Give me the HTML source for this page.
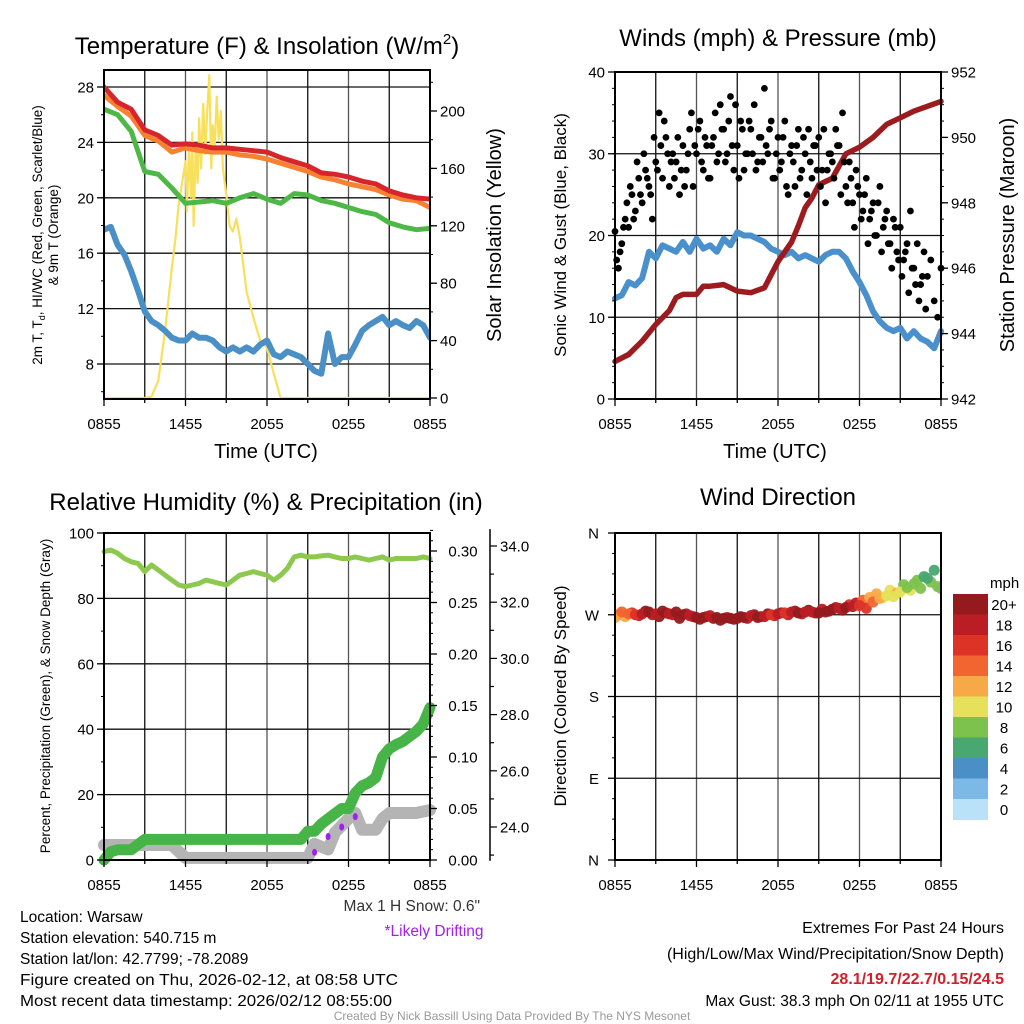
<!DOCTYPE html>
<html><head><meta charset="utf-8"><style>
html,body{margin:0;padding:0;background:#fff}
svg{display:block;font-family:"Liberation Sans",Arial,sans-serif}
</style></head><body>
<svg id="chart" width="1024" height="1024" viewBox="0 0 1024 1024" xmlns="http://www.w3.org/2000/svg">
<rect width="1024" height="1024" fill="#fff"/>
<g id="layer-grid"></g>
<g id="layer-data"></g>
<g id="layer-axes"></g>
<g id="layer-text">
<text x="267" y="54" font-size="24" text-anchor="middle">Temperature (F) &amp; Insolation (W/m<tspan font-size="15" dy="-10">2</tspan><tspan dy="10">)</tspan></text>
<text x="778" y="46" font-size="24" text-anchor="middle">Winds (mph) &amp; Pressure (mb)</text>
<text x="266" y="510" font-size="24" text-anchor="middle">Relative Humidity (%) &amp; Precipitation (in)</text>
<text x="778" y="505" font-size="24" text-anchor="middle">Wind Direction</text>
<text x="266" y="458" font-size="20" text-anchor="middle">Time (UTC)</text>
<text x="775" y="458" font-size="20" text-anchor="middle">Time (UTC)</text>
<text transform="translate(42,235) rotate(-90)" font-size="13.5" text-anchor="middle">2m T, T<tspan font-size="9" dy="3">d</tspan><tspan dy="-3">, HI/WC (Red, Green, Scarlet/Blue)</tspan></text>
<text transform="translate(58,235) rotate(-90)" font-size="13.5" text-anchor="middle">&amp; 9m T (Orange)</text>
<text transform="translate(501,235) rotate(-90)" font-size="20" text-anchor="middle">Solar Insolation (Yellow)</text>
<text transform="translate(566,235) rotate(-90)" font-size="17" text-anchor="middle">Sonic Wind &amp; Gust (Blue, Black)</text>
<text transform="translate(1014,235) rotate(-90)" font-size="20" text-anchor="middle">Station Pressure (Maroon)</text>
<text transform="translate(50,696) rotate(-90)" font-size="13.5" text-anchor="middle">Percent, Precipitation (Green), &amp; Snow Depth (Gray)</text>
<text transform="translate(566,696) rotate(-90)" font-size="17" text-anchor="middle">Direction (Colored By Speed)</text>
<text x="990" y="588" font-size="15">mph</text>
<text x="480" y="911" font-size="15.5" text-anchor="end" fill="#333">Max 1 H Snow: 0.6"</text>
<text x="434" y="936" font-size="15.5" text-anchor="middle" fill="#a020f0">*Likely Drifting</text>
<g font-size="15.5">
<text x="20" y="922">Location: Warsaw</text>
<text x="20" y="943">Station elevation: 540.715 m</text>
<text x="20" y="964">Station lat/lon: 42.7799; -78.2089</text>
<text x="20" y="985" textLength="378" lengthAdjust="spacingAndGlyphs">Figure created on Thu, 2026-02-12, at 08:58 UTC</text>
<text x="20" y="1006" textLength="372" lengthAdjust="spacingAndGlyphs">Most recent data timestamp: 2026/02/12 08:55:00</text>
</g>
<text x="1004" y="933" font-size="16" text-anchor="end">Extremes For Past 24 Hours</text>
<text x="1004" y="959" font-size="16" text-anchor="end">(High/Low/Max Wind/Precipitation/Snow Depth)</text>
<text x="1004" y="984" font-size="16" font-weight="bold" text-anchor="end" fill="#d0202a">28.1/19.7/22.7/0.15/24.5</text>
<text x="1004" y="1006" font-size="15.5" text-anchor="end">Max Gust: 38.3 mph On 02/11 at 1955 UTC</text>
<text x="512" y="1020" font-size="12" text-anchor="middle" fill="#999">Created By Nick Bassill Using Data Provided By The NYS Mesonet</text>
</g>
</svg>
<script>
// ---- data (half-hourly unless noted, hours since 0855 UTC) ----
const timeLabels = ["0855","1455","2055","0255","0855"];
const tempTicks = [8,12,16,20,24,28];
const solarTicks = [0,40,80,120,160,200];
const windTicks = [0,10,20,30,40];
const presTicks = [942,944,946,948,950,952];
const rhTicks = [0,20,40,60,80,100];
const precipTicks = ["0.00","0.05","0.10","0.15","0.20","0.25","0.30"];
const snowTicks = ["24.0","26.0","28.0","30.0","32.0","34.0"];
const dirTicks = ["N","E","S","W","N"];
const speedBins = ["0","2","4","6","8","10","12","14","16","18","20+"];

const hourlyT = [28.0,26.9,26.4,24.9,24.5,23.8,23.9,23.8,23.6,23.6,23.5,23.4,23.3,22.9,22.6,22.3,21.8,21.7,21.5,21.2,21.0,20.5,20.2,20.0,19.9];
const hourly9mT = [27.4,26.6,25.9,24.5,24.1,23.3,23.6,23.4,23.3,23.3,23.1,23.0,22.8,22.5,22.2,21.9,21.5,21.3,21.0,20.8,20.6,20.2,19.9,19.8,19.3];
const hourlyTd = [26.4,26.0,24.8,21.9,21.7,20.7,19.6,19.7,19.8,19.6,20.0,20.3,19.9,19.6,20.3,20.2,19.8,19.6,19.3,19.0,18.8,18.2,17.9,17.7,17.8];
const windChill = [17.7,17.9,16.6,15.9,14.7,13.3,11.8,11.1,10.8,10.4,9.9,9.7,9.7,10.2,9.9,9.9,9.7,9.2,8.9,9.2,8.9,9.2,8.9,9.4,9.7,8.7,8.5,8.9,8.7,8.5,8.0,7.5,7.3,10.2,8.0,8.5,8.5,9.4,10.4,10.8,11.1,11.4,10.8,11.1,10.8,10.6,11.1,10.8,9.9];
const solarTimes = [0,3,3.5,4,4.5,5,5.25,5.5,5.75,6,6.1,6.25,6.4,6.5,6.6,6.75,6.9,7,7.15,7.3,7.45,7.6,7.75,7.9,8,8.15,8.3,8.45,8.6,8.75,9,9.25,9.5,9.75,10,10.5,11,11.5,12,12.5,13,24];
const solarVals = [0,0,1,12,47,91,110,135,150,165,130,175,140,185,120,175,150,195,160,205,170,200,225,160,190,175,210,180,200,160,142,120,116,125,112,74,56,40,35,17,0,0];

const sonicWind = [12.3,12.7,14.3,13.9,14.8,18.0,17.2,18.8,18.4,18.0,19.2,18.0,19.6,18.4,18.8,18.0,19.6,18.8,20.4,20.0,20.0,19.6,19.2,18.4,18.0,17.6,18.0,17.2,17.6,17.2,16.8,17.6,18.0,18.0,17.2,15.6,14.3,12.7,10.7,9.5,8.7,8.3,8.7,7.4,8.3,7.4,7.0,6.2,8.3];
const gust = [20.5,16,19,22, 21,25,23,27, 24,28,26,22, 29,35,27,32, 26,30,29,25, 31,28,33,26, 30,34,28,31, 27,32,29,36, 33,30,37,28, 31,34,28,30, 33,36,29,32, 38,30,34,27, 32,29,34,25, 31,26,33,28, 30,33,27,31, 32,28,24,30, 29,33,31,35, 26,29,24,28, 25,23,27,22, 24,20,26,21, 23,19,22,18, 21,17,19,23, 16,19,14,18, 15,17,12,10, 16];
const gustB = [17,18,21,24, 26,22,29,25, 30,27,25,32, 28,31,34,30, 29,27,32,28, 26,30,35,31, 33,29,32,27, 31,35,30,33, 29,34,31,36, 27,33,30,34, 30,28,32,29, 31,33,27,30, 28,32,26,30, 29,31,27,32, 25,29,31,28, 26,33,28,30, 27,31,25,29, 24,27,21,26, 22,25,19,23, 20,24,18,22, 19,16,21,17, 15,18,13,16, 14,12,15,11];
const presTimes = [0,1,2,3,4,4.5,5,6,6.5,7,8,9,10,11,11.5,12,12.5,13,13.5,14,14.5,15,15.5,16,17,18,19,20,21,22,23,24];
const pressure = [943.15,943.36,943.77,944.28,944.7,945.1,945.2,945.2,945.45,945.45,945.5,945.3,945.25,945.4,945.8,946.2,946.5,946.8,947.3,947.85,948.15,948.55,948.65,948.75,949.5,949.7,950.0,950.4,950.6,950.8,950.95,951.1];

const relHum = [94.3,94.8,93.8,92.2,91.2,90.7,88.2,90.2,88.7,87.1,85.6,84.1,83.6,84.1,84.6,85.6,85.1,84.6,84.1,85.6,87.1,87.6,88.2,87.6,87.1,85.6,87.1,89.2,92.7,93.2,92.7,92.7,93.0,93.2,92.7,92.2,92.2,92.7,92.2,91.7,92.2,92.7,91.7,92.2,92.2,92.2,92.2,92.7,92.2];
const precip = [0,0.008,0.01,0.01,0.01,0.015,0.02,0.02,0.02,0.02,0.02,0.02,0.02,0.02,0.02,0.02,0.02,0.02,0.02,0.02,0.02,0.02,0.02,0.02,0.02,0.02,0.02,0.02,0.02,0.02,0.028,0.028,0.035,0.04,0.045,0.05,0.05,0.065,0.072,0.075,0.08,0.1,0.108,0.112,0.115,0.12,0.125,0.132,0.148];
const snowTimes = [0,5,6,15,15.5,16.5,17,18,18.5,19,20,20.5,21,22,23,23.5,24];
const snowDepth = [23.36,23.36,22.9,22.9,23.4,23.2,23.8,24.3,24.5,23.9,23.9,24.3,24.5,24.5,24.5,24.55,24.6];
const driftTimes = [15.5,16.5,17.5,18.5];
const driftDepth = [23.1,23.66,24.0,24.37];

const windDir = [267,273,271,270,271,273,271,274,271,273,270,269,267,267,269,267,266,266,266,267,269,267,268,270,271,272,273,272,273,273,272,273,276,277,278,279,280,277,284,288,291,290,295,300,304,299,310,319,299];
const windSpd = [12,14,14,16,18,20,18,20,18,20,20,18,20,20,18,20,20,20,20,20,18,20,18,16,18,16,18,20,18,18,20,20,20,18,20,18,16,16,14,12,10,10,10,8,8,8,6,6,8];
const windDirB = [270,268,272,269,274,270,268,272,270,266,271,268,265,268,266,264,267,265,268,266,270,268,271,269,272,270,274,271,275,272,276,274,278,275,281,283,286,289,293,289,297,294,303,297,308,312,306,301];
const windSpdB = [14,12,16,18,20,18,20,20,18,20,18,20,20,18,20,20,18,20,20,18,20,18,20,18,20,18,20,18,20,20,18,20,18,20,16,18,14,12,12,10,10,12,8,10,8,6,8,8];

// ---- rendering ----
const NS = "http://www.w3.org/2000/svg";
const gGrid = document.getElementById('layer-grid');
const gData = document.getElementById('layer-data');
const gAxes = document.getElementById('layer-axes');
function mk(tag, attrs, parent){ const e=document.createElementNS(NS,tag); for(const k in attrs) e.setAttribute(k,attrs[k]); parent.appendChild(e); return e; }
function txt(s, x, y, size, anchor, parent, fill){ const e=mk('text',{x:x,y:y,'font-size':size,'text-anchor':anchor,fill:fill||'#000'},parent); e.textContent=s; return e; }
function lin(min,max,p0,p1){ return v => p0 + (v-min)/(max-min)*(p1-p0); }
const speedColors = ["#b9e2f8","#7cb9e6","#4a8fc5","#48a870","#7dc24d","#e6e05a","#f8a947","#f26430","#dd3327","#bb1d25","#951a1d"];

function panelFrame(name, L, T, R, B, hLines){
  const g = mk('g',{},gGrid);
  
  
  const xs = lin(0,24,L,R);
  for(let h=3; h<24; h+=3){ mk('line',{x1:xs(h),x2:xs(h),y1:T,y2:B,stroke:(h%6===0?'#555':'#111'),'stroke-width':1.3},g); }
  hLines.forEach(y=> mk('line',{x1:L,x2:R,y1:y,y2:y,stroke:'#111','stroke-width':1.3},g));
  const f = mk('rect',{x:L,y:T,width:R-L,height:B-T,fill:'none',stroke:'#000','stroke-width':2},gAxes);
  
  
  const gx = mk('g',{},gAxes);
  
  
  for(let h=0; h<=24; h+=3){ mk('line',{x1:xs(h),x2:xs(h),y1:B,y2:B+(h%6===0?7:4),stroke:'#000','stroke-width':1.3},gx); }
  timeLabels.forEach((s,i)=> txt(s, xs(i*6), B+30, 15, 'middle', gx));
  return xs;
}
function leftAxis(name, L, ys, ticks, minorStep, min, max){
  const g = mk('g',{},gAxes);
  
  
  for(let v=min; v<=max+1e-9; v+=minorStep) mk('line',{x1:L-3,x2:L,y1:ys(v),y2:ys(v),stroke:'#000','stroke-width':1},g);
  ticks.forEach(v=>{ mk('line',{x1:L-7,x2:L,y1:ys(+v),y2:ys(+v),stroke:'#000','stroke-width':1.3},g); txt(String(v), L-10, ys(+v)+5.5, 15, 'end', g); });
}
function rightAxis(name, R, ys, ticks, minorStep, min, max, labelX, anchor){
  const g = mk('g',{},gAxes);
  
  
  for(let v=min; v<=max+1e-9; v+=minorStep) mk('line',{x1:R,x2:R+3,y1:ys(v),y2:ys(v),stroke:'#000','stroke-width':1},g);
  ticks.forEach(v=>{ mk('line',{x1:R,x2:R+7,y1:ys(+v),y2:ys(+v),stroke:'#000','stroke-width':1.3},g); txt(String(v), labelX, ys(+v)+5.5, 15, anchor||'start', g); });
}
function polyline(name, xs, ys, times, vals, color, w, parent){
  const pts = vals.map((v,i)=> xs(times[i]).toFixed(1)+','+ys(v).toFixed(1)).join(' ');
  const e = mk('polyline',{points:pts,fill:'none',stroke:color,'stroke-width':w,'stroke-linejoin':'round','stroke-linecap':'round'},parent||gData);
  
  
  return e;
}
const half = n => Array.from({length:n},(_,i)=>i*0.5);
const hourly = n => Array.from({length:n},(_,i)=>i);
const quarter = n => Array.from({length:n},(_,i)=>i*0.25);

// Panel 1
{ const L=104,T=70,R=430,B=399;
  const yT = lin(8,28,364,87), yS = lin(0,200,398,111);
  const xs = panelFrame('temperature-panel', L,T,R,B, tempTicks.map(yT));
  leftAxis('temperature-left-axis', L, yT, tempTicks, 2, 6, 28);
  rightAxis('insolation-right-axis', R, yS, solarTicks, 20, 0, 220, R+10);
  const clip = mk('clipPath',{id:'c1'},gData); mk('rect',{x:L,y:T,width:R-L,height:B-T+3},clip);
  const g = mk('g',{'clip-path':'url(#c1)'},gData);
  polyline('solar-insolation-line', xs, yS, solarTimes, solarVals, '#f8e05a', 2.2, g);
  polyline('wind-chill-line', xs, yT, half(49), windChill, '#4a8fc5', 6, g);
  polyline('dewpoint-line', xs, yT, hourly(25), hourlyTd, '#4db845', 5, g);
  polyline('temp-9m-line', xs, yT, hourly(25), hourly9mT, '#f58131', 5, g);
  polyline('temp-2m-line', xs, yT, hourly(25), hourlyT, '#d7262b', 5, g);
}
// Panel 2
{ const L=615,T=72,R=941,B=399;
  const yW = lin(0,40,399,72), yP = lin(942,952,399,72);
  const xs = panelFrame('winds-panel', L,T,R,B, windTicks.map(yW));
  leftAxis('wind-left-axis', L, yW, windTicks, 2, 0, 40);
  rightAxis('pressure-right-axis', R, yP, presTicks, 0.5, 942, 952, R+10);
  polyline('sonic-wind-line', xs, yW, half(49), sonicWind, '#4a90cc', 6);
  polyline('pressure-line', xs, yP, presTimes, pressure, '#9b1b1e', 5.5);
  const tq = quarter(97);
  gust.forEach((v,i)=>{ const c=mk('circle',{cx:xs(tq[i]),cy:yW(v),r:3.4,fill:'#000'},gData);
    
     });
  gustB.forEach((v,i)=>{ const c=mk('circle',{cx:xs(tq[i]+0.125),cy:yW(v),r:3.4,fill:'#000'},gData);
    
     });
}
// Panel 3
{ const L=104,T=533,R=430,B=860;
  const yR = lin(0,100,860,533), yPr = lin(0,0.30,860,551), ySn = lin(24,34,827,546);
  const xs = panelFrame('humidity-panel', L,T,R,B, rhTicks.map(yR));
  leftAxis('humidity-left-axis', L, yR, rhTicks, 10, 0, 100);
  rightAxis('precip-right-axis', R, yPr, precipTicks, 0.01, 0, 0.32, R+33, 'middle');
  const AX=490; const gs = mk('g',{},gAxes);
  
  
  mk('line',{x1:AX,x2:AX,y1:ySn(22.8),y2:ySn(34.6),stroke:'#000','stroke-width':1.5},gs);
  for(let v=23; v<=34.01; v+=1) mk('line',{x1:AX,x2:AX+(v%2===0?7:4),y1:ySn(v),y2:ySn(v),stroke:'#000','stroke-width':1.2},gs);
  snowTicks.forEach(s=> txt(s, AX+10, ySn(+s)+5.5, 15, 'start', gs));
  const clip = mk('clipPath',{id:'c3'},gData); mk('rect',{x:L-6,y:T,width:R-L+12,height:B-T+6},clip);
  const g = mk('g',{'clip-path':'url(#c3)'},gData);
  polyline('snow-depth-line', xs, ySn, snowTimes, snowDepth, '#b4b4b4', 12, g);
  polyline('precipitation-line', xs, yPr, half(49), precip, '#46b446', 11, g);
  polyline('relative-humidity-line', xs, yR, half(49), relHum, '#8dc94f', 5, g);
  driftTimes.forEach((t,i)=>{ const e=mk('ellipse',{cx:xs(t),cy:ySn(driftDepth[i]),rx:2.5,ry:3.5,fill:'#a020f0'},g);
    
     });
}
// Panel 4
{ const L=615,T=533,R=941,B=860;
  const yD = lin(0,360,860,533);
  const xs = panelFrame('direction-panel', L,T,R,B, [90,180,270].map(yD));
  const g = mk('g',{},gAxes);
  
  
  dirTicks.forEach((s,i)=>{ const y=yD(i*90); mk('line',{x1:L-7,x2:L,y1:y,y2:y,stroke:'#000','stroke-width':1.3},g); txt(s, L-16, y+5.5, 15, 'end', g); });
  for(let v=22.5; v<360; v+=22.5) if(v%90) mk('line',{x1:L-3,x2:L,y1:yD(v),y2:yD(v),stroke:'#000'},g);
  const pc = mk('clipPath',{id:'c4'},gData); mk('rect',{x:L,y:T,width:R-L,height:B-T},pc);
  const gp = mk('g',{'clip-path':'url(#c4)'},gData);
  windDirB.forEach((d,i)=>{ const bin=Math.min(10,Math.floor(windSpdB[i]/2));
    const c=mk('circle',{cx:xs(i*0.5+0.25),cy:yD(d),r:5.5,fill:speedColors[bin],'fill-opacity':0.95},gp);
    
     });
  windDir.forEach((d,i)=>{ const bin=Math.min(10,Math.floor(windSpd[i]/2));
    const c=mk('circle',{cx:xs(i*0.5),cy:yD(d),r:5.5,fill:speedColors[bin],'fill-opacity':0.95},gp);
    
     });
  const cb = mk('g',{},gAxes);
  
  
  const top=594, bh=20.5;
  speedBins.forEach((s,i)=>{ const k=10-i; const y=top+i*bh;
    mk('rect',{x:953,y:y,width:35,height:bh+0.5,fill:speedColors[k]},cb);
    txt(speedBins[k], 1004, y+16, 15, 'middle', cb); });
}
</script>
</body></html>
